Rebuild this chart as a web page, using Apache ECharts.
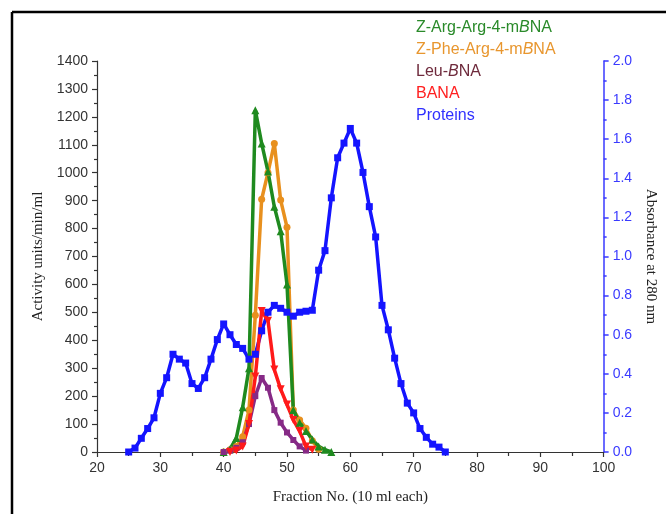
<!DOCTYPE html>
<html>
<head>
<meta charset="utf-8">
<script src="https://cdn.jsdelivr.net/npm/echarts@6/dist/echarts.min.js"></script>
<style>
  html, body { margin: 0; padding: 0; background: #fff; }
  #chart { width: 666px; height: 514px; }
</style>
</head>
<body>
<div id="chart"></div>
<script>
// Fraction numbers and measured values for each assay
const argFractions = [40, 41, 42, 43, 44, 45, 46, 47, 48, 49, 50, 51, 52, 53, 54, 55, 56, 57];
const argActivity  = [0, 10, 50, 160, 300, 1224, 1105, 1004, 878, 790, 600, 150, 105, 75, 45, 20, 8, 0];

const pheFractions = [40, 41, 42, 43, 44, 45, 46, 47, 48, 49, 50, 51, 52, 53, 54, 55];
const pheActivity  = [0, 8, 20, 55, 150, 490, 905, 1000, 1105, 902, 805, 150, 115, 85, 40, 10];

const leuFractions = [40, 41, 42, 43, 44, 45, 46, 47, 48, 49, 50, 51, 52, 53];
const leuActivity  = [0, 5, 15, 35, 100, 200, 265, 230, 150, 105, 70, 43, 20, 5];

const banaFractions = [41, 42, 43, 44, 45, 46, 47, 48, 49, 50, 51, 52, 53, 54];
const banaActivity  = [0, 5, 20, 100, 270, 505, 470, 295, 225, 170, 115, 75, 20, 8];

const proteinFractions = [25, 26, 27, 28, 29, 30, 31, 32, 33, 34, 35, 36, 37, 38, 39, 40, 41, 42, 43, 44,
  45, 46, 47, 48, 49, 50, 51, 52, 53, 54, 55, 56, 57, 58, 59, 60, 61, 62, 63, 64,
  65, 66, 67, 68, 69, 70, 71, 72, 73, 74, 75];
const proteinAbsorbance = [0, 0.02, 0.07, 0.12, 0.175, 0.30, 0.38, 0.50, 0.475, 0.455, 0.35, 0.325, 0.38, 0.475, 0.575, 0.655, 0.60, 0.55, 0.53, 0.475,
  0.50, 0.62, 0.715, 0.75, 0.735, 0.715, 0.695, 0.715, 0.72, 0.725, 0.93, 1.03, 1.30, 1.505, 1.58, 1.655, 1.58, 1.43, 1.255, 1.10,
  0.75, 0.625, 0.48, 0.35, 0.25, 0.20, 0.12, 0.075, 0.04, 0.025, 0];

const seriesNames = ['Z-Arg-Arg-4-mBNA', 'Z-Phe-Arg-4-mBNA', 'Leu-BNA', 'BANA', 'Proteins'];
const legendLabels = ['Z-Arg-Arg-4-m{i|B}NA', 'Z-Phe-Arg-4-m{i|B}NA', 'Leu-{i|B}NA', 'BANA', 'Proteins'];

const pairs = (xs, ys) => xs.map((x, i) => [x, ys[i]]);

const sansFont = '"Liberation Sans", Arial, sans-serif';
const serifFont = '"Liberation Serif", "Times New Roman", serif';
const axisBlue = '#3a3aff';

const chart = echarts.init(document.getElementById('chart'), null, { renderer: 'canvas' });

function lineSeries(name, data, color, symbol, yAxisIndex, symbolSize) {
  return {
    name, type: 'line', data, yAxisIndex,
    symbol, symbolSize,
    lineStyle: { color, width: 3.5 },
    itemStyle: { color, borderWidth: 0 },
    animation: false
  };
}

const legendColors = ['#2a8a2a', '#e8962e', '#6e2a3c', '#ff2020', '#3030ff'];

chart.setOption({
  backgroundColor: '#fff',
  animation: false,
  grid: { left: 97, right: 60, top: 61, bottom: 62 },
  xAxis: {
    type: 'value', min: 20, max: 100, interval: 10,
    name: 'Fraction No. (10 ml each)', nameLocation: 'middle', nameGap: 38,
    nameTextStyle: { fontFamily: serifFont, fontSize: 15, color: '#222' },
    axisLine: { lineStyle: { color: '#333', width: 1.2 } },
    axisTick: { length: 5, lineStyle: { color: '#333', width: 1.2 } },
    minorTick: { show: true, splitNumber: 2, length: 4, lineStyle: { color: '#333', width: 1.2 } },
    axisLabel: { fontFamily: sansFont, fontSize: 14, color: '#333', margin: 9, formatter: v => String(v) },
    splitLine: { show: false }
  },
  yAxis: [
    {
      type: 'value', min: 0, max: 1400, interval: 100, position: 'left',
      name: 'Activity units/min/ml', nameLocation: 'middle', nameGap: 43, nameRotate: 90,
      nameTextStyle: { fontFamily: serifFont, fontSize: 15, color: '#222' },
      axisLine: { show: true, lineStyle: { color: '#333', width: 1.2 } },
      axisTick: { show: true, length: 5, lineStyle: { color: '#333', width: 1.2 } },
      minorTick: { show: true, splitNumber: 2, length: 3, lineStyle: { color: '#333', width: 1.2 } },
      axisLabel: { fontFamily: sansFont, fontSize: 14, color: '#333', margin: 9, formatter: v => String(v) },
      splitLine: { show: false }
    },
    {
      type: 'value', min: 0, max: 2.0, interval: 0.2, position: 'right',
      name: 'Absorbance at 280 nm', nameLocation: 'middle', nameGap: 39, nameRotate: -90,
      nameTextStyle: { fontFamily: serifFont, fontSize: 15, color: '#222' },
      axisLine: { show: true, lineStyle: { color: axisBlue, width: 1.5 } },
      axisTick: { show: true, length: 5, lineStyle: { color: axisBlue, width: 1.5 } },
      minorTick: { show: true, splitNumber: 2, length: 3, lineStyle: { color: axisBlue, width: 1.5 } },
      axisLabel: {
        fontFamily: sansFont, fontSize: 14, color: axisBlue, margin: 9,
        formatter: v => v.toFixed(1)
      },
      splitLine: { show: false }
    }
  ],
  graphic: [
    // frame lines along the top and left edges
    { type: 'line', shape: { x1: 12, y1: 12, x2: 666, y2: 12 }, style: { stroke: '#000', lineWidth: 2.5 } },
    { type: 'line', shape: { x1: 12, y1: 12, x2: 12, y2: 514 }, style: { stroke: '#000', lineWidth: 2.5 } }
  ].concat(legendLabels.map((label, i) => ({
    type: 'text', left: 416, top: 20 + i * 22,
    style: {
      text: label,
      fill: legendColors[i],
      font: '16px ' + sansFont,
      rich: {
        i: { fontStyle: 'italic', fontSize: 16, fontFamily: sansFont, fill: legendColors[i] }
      }
    }
  }))),
  series: [
    lineSeries(seriesNames[4], pairs(proteinFractions, proteinAbsorbance), '#1414ff', 'rect', 1, 7),
    lineSeries(seriesNames[1], pairs(pheFractions, pheActivity), '#e8901e', 'circle', 0, 7),
    lineSeries(seriesNames[0], pairs(argFractions, argActivity), '#1f8a1f', 'triangle', 0, 8),
    lineSeries(seriesNames[2], pairs(leuFractions, leuActivity), '#862a86', 'rect', 0, 6),
    lineSeries(seriesNames[3], pairs(banaFractions, banaActivity), '#ff1a1a', 'path://M0,0L10,0L5,9Z', 0, 8)
  ]
});
</script>
</body>
</html>
